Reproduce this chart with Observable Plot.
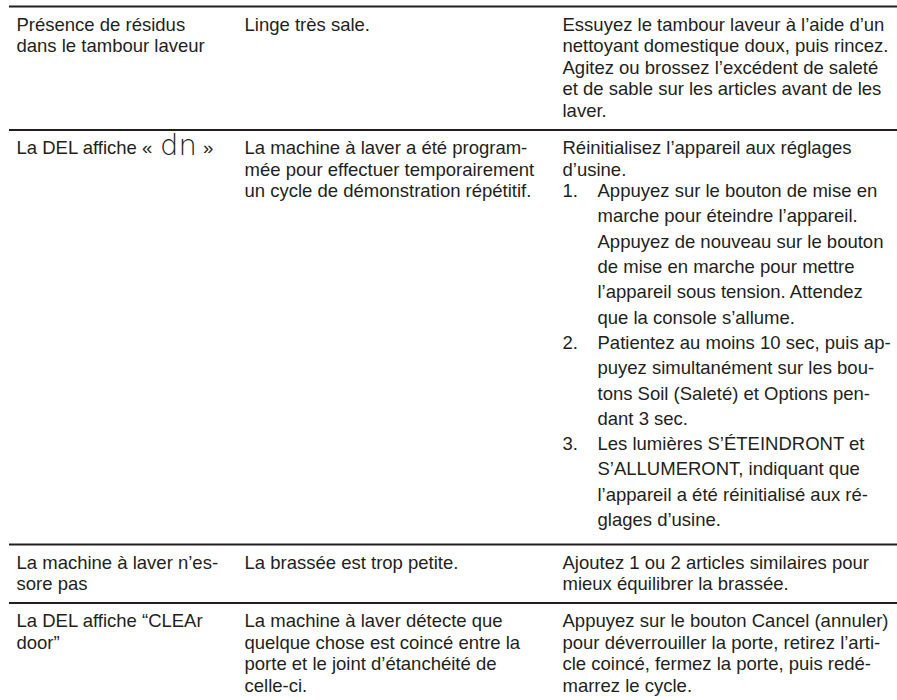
<!DOCTYPE html>
<html lang="fr">
<head>
<meta charset="utf-8">
<script src="https://cdn.jsdelivr.net/npm/d3@7"></script>
<script src="https://cdn.jsdelivr.net/npm/@observablehq/plot@0.6"></script>
<style>
  html, body { margin: 0; padding: 0; background: #fff; }
  #chart svg { display: block; }
</style>
</head>
<body>
<div id="chart"></div>
<script>
// ---- table content (one entry per row) ----
const problems = [
  ["Présence de résidus", "dans le tambour laveur"],
  ["La DEL affiche « dn »"],
  ["La machine à laver n’es-", "sore pas"],
  ["La DEL affiche “CLEAr", "door”"]
];
const causes = [
  ["Linge très sale."],
  ["La machine à laver a été program-", "mée pour effectuer temporairement", "un cycle de démonstration répétitif."],
  ["La brassée est trop petite."],
  ["La machine à laver détecte que", "quelque chose est coincé entre la", "porte et le joint d’étanchéité de", "celle-ci."]
];
const solutionIntros = [
  ["Essuyez le tambour laveur à l’aide d’un", "nettoyant domestique doux, puis rincez.", "Agitez ou brossez l’excédent de saleté", "et de sable sur les articles avant de les", "laver."],
  ["Réinitialisez l’appareil aux réglages", "d’usine."],
  ["Ajoutez 1 ou 2 articles similaires pour", "mieux équilibrer la brassée."],
  ["Appuyez sur le bouton Cancel (annuler)", "pour déverrouiller la porte, retirez l’arti-", "cle coincé, fermez la porte, puis redé-", "marrez le cycle."]
];
const stepNumbers = ["1.", "2.", "3."];
const resetSteps = [
  ["Appuyez sur le bouton de mise en", "marche pour éteindre l’appareil.", "Appuyez de nouveau sur le bouton", "de mise en marche pour mettre", "l’appareil sous tension. Attendez", "que la console s’allume."],
  ["Patientez au moins 10 sec, puis ap-", "puyez simultanément sur les bou-", "tons Soil (Saleté) et Options pen-", "dant 3 sec."],
  ["Les lumières S’ÉTEINDRONT et", "S’ALLUMERONT, indiquant que", "l’appareil a été réinitialisé aux ré-", "glages d’usine."]
];
const solutionSteps = [[], resetSteps, [], []];
const displayCode = "dn";

// ---- layout ----
const W = 897, H = 700;
const FONT = "'Liberation Sans', Arial, Helvetica, sans-serif";
const CODE_FONT = "'DejaVu Sans ExtraLight', 'DejaVu Sans', sans-serif";
const FS = 18.5, LH = 21.6, LLH = 25.3, CODE_FS = 29;
const PAD_TOP = 24, PAD_BOTTOM = 13, LIST_AFTER = 5.5;
const COLX = [16, 244, 562];
const NUM_X = 562, STEP_X = 597;
const TOP_Y = 6, RULE_X1 = 9, RULE_X2 = W;
const INK = "#231f20";

const ctx = document.createElement("canvas").getContext("2d");
function measure(t, size, family, weight = "normal") { ctx.font = `${weight} ${size}px ${family}`; return ctx.measureText(t).width; }

const textLines = [];   // plain text lines
const codes = [];       // display glyph text
const rules = [TOP_Y];
let rowTop = TOP_Y;
problems.forEach((prob, i) => {
  const base = rowTop + PAD_TOP;
  const ends = [];
  // column 1
  prob.forEach((t, k) => {
    const y = base + k * LH;
    const at = t.indexOf(" " + displayCode + " ");
    if (at >= 0) {
      const before = t.slice(0, at + 1), after = t.slice(at + 1 + displayCode.length);
      textLines.push({x: COLX[0], y, text: before});
      const x2 = COLX[0] + measure(before, FS, FONT) + 2;
      codes.push({x: x2, y: y + 1, text: displayCode});
      const x3 = x2 + measure(displayCode, CODE_FS, CODE_FONT, 200) + 1;
      textLines.push({x: x3, y, text: after});
    } else textLines.push({x: COLX[0], y, text: t});
  });
  ends.push(base + (prob.length - 1) * LH);
  // column 2
  causes[i].forEach((t, k) => textLines.push({x: COLX[1], y: base + k * LH, text: t}));
  ends.push(base + (causes[i].length - 1) * LH);
  // column 3
  let y = base, first = true, extra = 0, inList = false;
  solutionIntros[i].forEach(t => {
    if (!first) y += LH;
    textLines.push({x: COLX[2], y, text: t});
    first = false;
  });
  solutionSteps[i].forEach((step, s) => {
    step.forEach((t, k) => {
      if (!first) y += inList ? LLH : LH;
      inList = true;
      if (k === 0) textLines.push({x: NUM_X, y, text: stepNumbers[s]});
      textLines.push({x: STEP_X, y, text: t});
      first = false;
    });
    extra = LIST_AFTER;
  });
  ends.push(y + extra);
  rowTop = Math.max(...ends) + PAD_BOTTOM;
  if (i < problems.length - 1) rules.push(rowTop);
});

const chart = Plot.plot({
  width: W,
  height: H,
  margin: 0,
  x: {type: "identity", axis: null},
  y: {type: "identity", axis: null},
  style: {fontFamily: FONT, background: "#fff"},
  marks: [
    Plot.ruleY(rules, {y: d => d, x1: RULE_X1, x2: RULE_X2, stroke: INK, strokeWidth: 2}),
    Plot.text(textLines, {x: "x", y: "y", text: "text", textAnchor: "start", lineAnchor: "bottom",
      fontSize: FS, fill: INK}),
    Plot.text(codes, {x: "x", y: "y", text: "text", textAnchor: "start", lineAnchor: "bottom",
      fontSize: CODE_FS, fontFamily: CODE_FONT, fontWeight: 200, fill: INK})
  ]
});
document.getElementById("chart").appendChild(chart);
</script>
</body>
</html>
